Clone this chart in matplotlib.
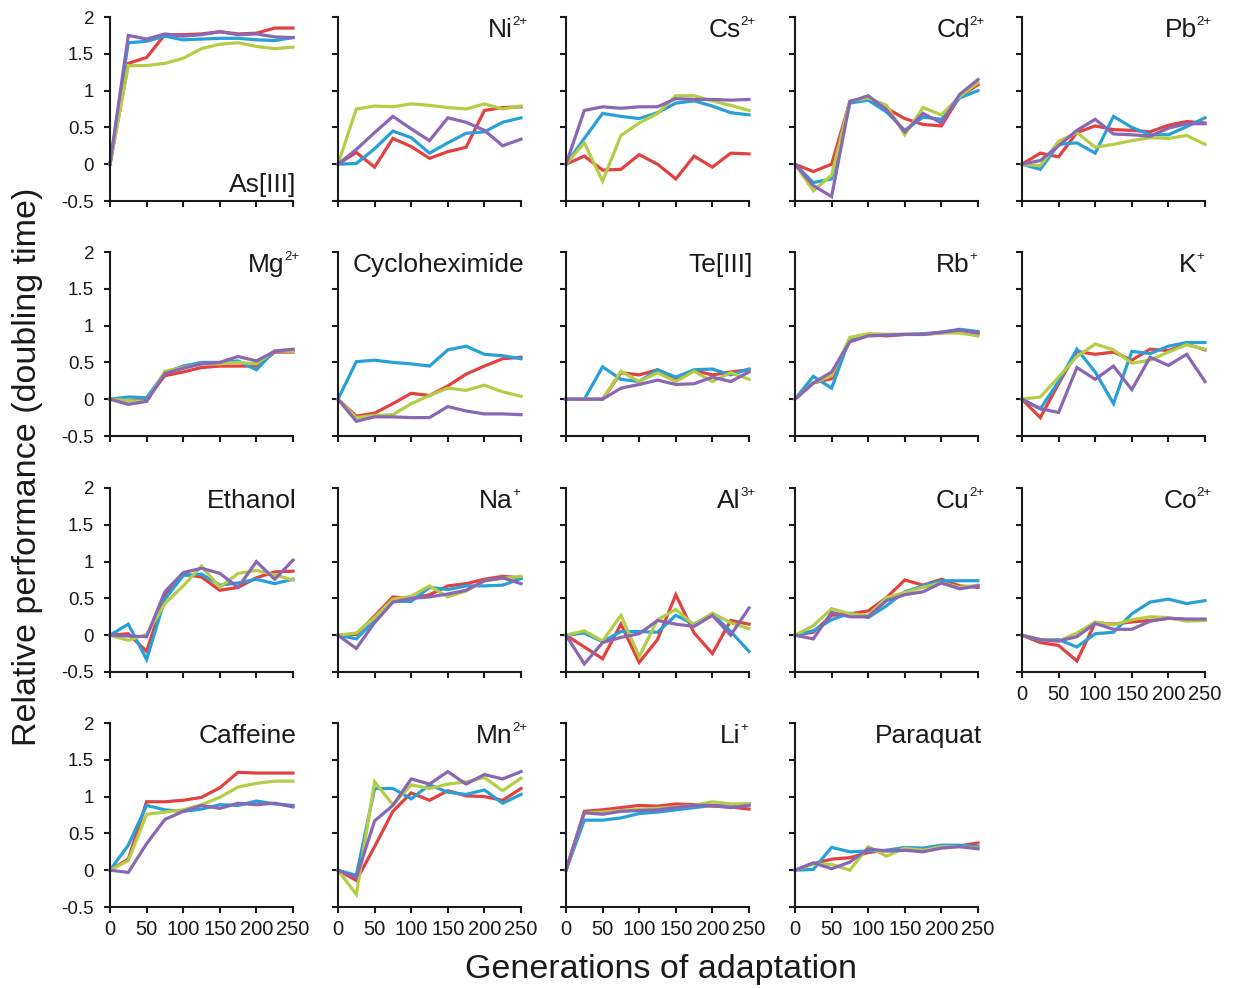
import matplotlib
matplotlib.use("Agg")
import matplotlib.pyplot as plt

plt.rcParams['font.family'] = ['Liberation Sans', 'DejaVu Sans']

generations = [0, 25, 50, 75, 100, 125, 150, 175, 200, 225, 250]
series_colors = ['#E2413F', '#27A0DA', '#B5CC45', '#8A67B5']  # red, blue, green, purple
y_ticks = [-0.5, 0, 0.5, 1, 1.5, 2]
y_ticklabels = ['-0.5', '0', '0.5', '1', '1.5', '2']
x_ticks = [0, 50, 100, 150, 200, 250]

# each condition: [red, blue, green, purple]
as3 = [[0, 1.37, 1.45, 1.76, 1.76, 1.77, 1.80, 1.77, 1.78, 1.85, 1.85],
       [0, 1.65, 1.67, 1.74, 1.69, 1.70, 1.71, 1.71, 1.69, 1.68, 1.72],
       [0, 1.34, 1.34, 1.37, 1.44, 1.57, 1.63, 1.65, 1.60, 1.57, 1.59],
       [0, 1.75, 1.70, 1.77, 1.74, 1.76, 1.80, 1.76, 1.77, 1.73, 1.72]]
ni = [[0, 0.16, -0.04, 0.35, 0.24, 0.08, 0.17, 0.23, 0.73, 0.77, 0.78],
      [0, 0.01, 0.21, 0.45, 0.36, 0.15, 0.29, 0.42, 0.44, 0.57, 0.63],
      [0, 0.75, 0.79, 0.78, 0.82, 0.80, 0.77, 0.75, 0.82, 0.75, 0.79],
      [0, 0.20, 0.43, 0.65, 0.48, 0.32, 0.63, 0.57, 0.46, 0.25, 0.34]]
cs = [[0, 0.11, -0.08, -0.07, 0.13, 0.0, -0.20, 0.11, -0.04, 0.15, 0.14],
      [0, 0.35, 0.69, 0.65, 0.62, 0.70, 0.83, 0.86, 0.79, 0.70, 0.67],
      [0, 0.29, -0.23, 0.39, 0.56, 0.69, 0.93, 0.93, 0.86, 0.80, 0.73],
      [0, 0.73, 0.78, 0.76, 0.78, 0.78, 0.89, 0.88, 0.88, 0.87, 0.88]]
cd = [[0, -0.10, 0.0, 0.85, 0.89, 0.76, 0.62, 0.54, 0.52, 0.92, 1.08],
      [0, -0.25, -0.20, 0.83, 0.87, 0.71, 0.46, 0.64, 0.61, 0.90, 1.00],
      [0, -0.36, -0.15, 0.86, 0.90, 0.80, 0.40, 0.77, 0.67, 0.92, 1.11],
      [0, -0.29, -0.44, 0.85, 0.93, 0.74, 0.44, 0.69, 0.56, 0.95, 1.15]]
pb = [[0, 0.15, 0.10, 0.43, 0.52, 0.47, 0.46, 0.44, 0.53, 0.58, 0.56],
      [0, -0.07, 0.27, 0.29, 0.15, 0.65, 0.50, 0.40, 0.40, 0.51, 0.63],
      [0, -0.02, 0.31, 0.43, 0.23, 0.27, 0.32, 0.36, 0.35, 0.39, 0.27],
      [0, 0.05, 0.25, 0.46, 0.61, 0.41, 0.40, 0.38, 0.49, 0.55, 0.55]]
mg = [[0, -0.02, 0.0, 0.32, 0.37, 0.43, 0.45, 0.45, 0.45, 0.64, 0.64],
      [0, 0.03, 0.02, 0.36, 0.45, 0.50, 0.50, 0.52, 0.40, 0.66, 0.67],
      [0, -0.02, -0.03, 0.38, 0.43, 0.48, 0.48, 0.50, 0.48, 0.66, 0.65],
      [0, -0.07, -0.03, 0.35, 0.42, 0.48, 0.50, 0.58, 0.52, 0.65, 0.68]]
cyclo = [[0, -0.23, -0.19, -0.06, 0.08, 0.05, 0.18, 0.34, 0.45, 0.55, 0.57],
         [0, 0.51, 0.53, 0.50, 0.48, 0.45, 0.67, 0.72, 0.61, 0.59, 0.55],
         [0, -0.25, -0.22, -0.21, -0.06, 0.05, 0.15, 0.12, 0.19, 0.10, 0.04],
         [0, -0.30, -0.24, -0.24, -0.25, -0.25, -0.10, -0.16, -0.20, -0.20, -0.21]]
te = [[0, 0, 0, 0.36, 0.33, 0.40, 0.28, 0.39, 0.33, 0.37, 0.40],
      [0, 0, 0.44, 0.27, 0.24, 0.40, 0.30, 0.40, 0.41, 0.33, 0.41],
      [0, 0, 0, 0.38, 0.24, 0.36, 0.24, 0.38, 0.24, 0.36, 0.27],
      [0, 0, 0, 0.15, 0.20, 0.26, 0.20, 0.21, 0.30, 0.24, 0.37]]
rb = [[0, 0.22, 0.28, 0.80, 0.88, 0.86, 0.88, 0.88, 0.90, 0.93, 0.89],
      [0, 0.31, 0.15, 0.83, 0.88, 0.88, 0.88, 0.89, 0.91, 0.95, 0.92],
      [0, 0.22, 0.32, 0.84, 0.89, 0.88, 0.88, 0.88, 0.90, 0.90, 0.86],
      [0, 0.22, 0.37, 0.78, 0.86, 0.87, 0.88, 0.88, 0.91, 0.94, 0.90]]
k = [[0, -0.25, 0.21, 0.65, 0.61, 0.64, 0.53, 0.68, 0.66, 0.75, 0.67],
     [0, -0.13, 0.24, 0.68, 0.37, -0.06, 0.65, 0.62, 0.72, 0.77, 0.77],
     [0, 0.03, 0.30, 0.58, 0.75, 0.67, 0.49, 0.53, 0.64, 0.74, 0.68],
     [0, -0.13, -0.18, 0.43, 0.27, 0.45, 0.13, 0.57, 0.46, 0.61, 0.24]]
ethanol = [[0, 0.02, -0.22, 0.55, 0.83, 0.79, 0.61, 0.65, 0.78, 0.86, 0.87],
           [0, 0.15, -0.33, 0.49, 0.81, 0.83, 0.68, 0.71, 0.76, 0.70, 0.76],
           [0, -0.07, 0.01, 0.43, 0.67, 0.94, 0.65, 0.84, 0.88, 0.82, 0.75],
           [0, -0.01, -0.02, 0.59, 0.85, 0.91, 0.84, 0.65, 1.00, 0.76, 1.02]]
na = [[0, 0.01, 0.26, 0.52, 0.50, 0.55, 0.67, 0.70, 0.76, 0.80, 0.78],
      [0, -0.05, 0.20, 0.46, 0.46, 0.65, 0.62, 0.67, 0.67, 0.68, 0.77],
      [0, 0.03, 0.24, 0.49, 0.53, 0.67, 0.52, 0.60, 0.74, 0.77, 0.80],
      [0, -0.18, 0.17, 0.45, 0.50, 0.52, 0.56, 0.61, 0.74, 0.78, 0.70]]
al = [[0, -0.16, -0.32, 0.15, -0.37, -0.06, 0.55, 0.03, -0.25, 0.20, 0.15],
      [0, 0.03, -0.09, 0.05, 0.05, 0.04, 0.27, 0.15, 0.29, 0.05, -0.22],
      [0, 0.06, -0.08, 0.27, -0.29, 0.21, 0.35, 0.14, 0.30, 0.17, 0.09],
      [0, -0.39, -0.10, -0.03, 0.02, 0.20, 0.15, 0.12, 0.27, 0.0, 0.37]]
cu = [[0, 0.04, 0.27, 0.29, 0.33, 0.51, 0.75, 0.68, 0.76, 0.67, 0.65],
      [0, 0.06, 0.21, 0.30, 0.24, 0.40, 0.59, 0.67, 0.74, 0.74, 0.74],
      [0, 0.13, 0.36, 0.29, 0.27, 0.51, 0.58, 0.65, 0.71, 0.65, 0.68],
      [0, -0.05, 0.31, 0.25, 0.25, 0.47, 0.55, 0.59, 0.71, 0.63, 0.67]]
co = [[0, -0.10, -0.14, -0.35, 0.17, 0.15, 0.18, 0.20, 0.23, 0.21, 0.21],
      [0, -0.07, -0.06, -0.16, 0.02, 0.04, 0.29, 0.45, 0.49, 0.43, 0.47],
      [0, -0.06, -0.08, 0.03, 0.18, 0.14, 0.21, 0.25, 0.24, 0.19, 0.20],
      [0, -0.06, -0.08, -0.02, 0.16, 0.08, 0.08, 0.19, 0.23, 0.22, 0.22]]
caffeine = [[0, 0.15, 0.93, 0.93, 0.95, 0.99, 1.12, 1.33, 1.32, 1.32, 1.32],
            [0, 0.34, 0.88, 0.82, 0.80, 0.83, 0.89, 0.88, 0.94, 0.90, 0.88],
            [0, 0.13, 0.76, 0.79, 0.82, 0.89, 0.99, 1.13, 1.18, 1.21, 1.21],
            [0, -0.03, 0.36, 0.69, 0.80, 0.88, 0.84, 0.91, 0.89, 0.91, 0.86]]
mn = [[0, -0.14, 0.32, 0.80, 1.05, 0.95, 1.08, 1.01, 1.00, 0.95, 1.11],
      [0, -0.07, 1.11, 1.11, 0.97, 1.16, 1.06, 1.03, 1.09, 0.91, 1.03],
      [0, -0.33, 1.20, 0.89, 1.16, 1.11, 1.17, 1.20, 1.26, 1.08, 1.25],
      [0, -0.10, 0.67, 0.88, 1.24, 1.17, 1.34, 1.17, 1.30, 1.24, 1.34]]
li = [[0, 0.80, 0.82, 0.85, 0.88, 0.87, 0.90, 0.89, 0.87, 0.86, 0.83],
      [0, 0.68, 0.68, 0.71, 0.77, 0.79, 0.82, 0.85, 0.88, 0.89, 0.90],
      [0, 0.78, 0.79, 0.81, 0.83, 0.84, 0.86, 0.88, 0.93, 0.90, 0.90],
      [0, 0.78, 0.76, 0.80, 0.81, 0.82, 0.85, 0.88, 0.88, 0.85, 0.88]]
paraquat = [[0, 0.09, 0.15, 0.17, 0.24, 0.27, 0.28, 0.27, 0.32, 0.33, 0.37],
            [0, 0.01, 0.31, 0.25, 0.26, 0.27, 0.31, 0.30, 0.34, 0.34, 0.32],
            [0, 0.08, 0.08, 0.0, 0.32, 0.19, 0.30, 0.27, 0.32, 0.32, 0.30],
            [0, 0.10, 0.02, 0.11, 0.29, 0.26, 0.27, 0.25, 0.30, 0.32, 0.29]]

# (label, superscript, data, row, col, label at bottom, show x tick labels)
panels = [
    ('As[III]', '', as3, 0, 0, True, False),
    ('Ni', '2+', ni, 0, 1, False, False),
    ('Cs', '2+', cs, 0, 2, False, False),
    ('Cd', '2+', cd, 0, 3, False, False),
    ('Pb', '2+', pb, 0, 4, False, False),
    ('Mg', '2+', mg, 1, 0, False, False),
    ('Cycloheximide', '', cyclo, 1, 1, False, False),
    ('Te[III]', '', te, 1, 2, False, False),
    ('Rb', '+', rb, 1, 3, False, False),
    ('K', '+', k, 1, 4, False, False),
    ('Ethanol', '', ethanol, 2, 0, False, False),
    ('Na', '+', na, 2, 1, False, False),
    ('Al', '3+', al, 2, 2, False, False),
    ('Cu', '2+', cu, 2, 3, False, False),
    ('Co', '2+', co, 2, 4, False, True),
    ('Caffeine', '', caffeine, 3, 0, False, True),
    ('Mn', '2+', mn, 3, 1, False, True),
    ('Li', '+', li, 3, 2, False, True),
    ('Paraquat', '', paraquat, 3, 3, False, True),
]

W, H = 1245, 988
fig = plt.figure(figsize=(W / 100, H / 100), dpi=100)
col_left = [110, 338, 566, 795, 1022]
row_top = [17, 252, 488, 723]
pw, ph = 183, 184

for label, sup, data, r, c, bottom, xlab in panels:
    ax = fig.add_axes([col_left[c] / W, 1 - (row_top[r] + ph) / H, pw / W, ph / H])
    for vals, colr in zip(data, series_colors):
        ax.plot(generations, vals, color=colr, lw=2.3, solid_joinstyle='miter', clip_on=False)
    ax.set_xlim(0, 250)
    ax.set_ylim(-0.5, 2)
    ax.set_xticks(x_ticks)
    ax.set_yticks(y_ticks)
    for s in ['top', 'right']:
        ax.spines[s].set_visible(False)
    for s in ['left', 'bottom']:
        ax.spines[s].set_linewidth(1.5)
        ax.spines[s].set_color('#1a1a1a')
    ax.tick_params(direction='out', length=4.5, width=1.5, color='#1a1a1a',
                   labelcolor='#1a1a1a')
    ax.tick_params(axis='y', pad=7, labelsize=13.5)
    ax.tick_params(axis='x', pad=5, labelsize=14.5)
    if c == 0:
        ax.set_yticklabels(y_ticklabels)
    else:
        ax.set_yticklabels([])
    if not xlab:
        ax.set_xticklabels([])
    ypos = 0.05 if bottom else 0.89
    if sup:
        t = ax.text(0.955, ypos, label, transform=ax.transAxes, ha='right', va='baseline',
                    fontsize=19, color='#1a1a1a')
        ax.annotate(sup, xy=(1.0, 1.0), xycoords=t, xytext=(-0.5, 1.5), textcoords='offset points',
                    ha='left', va='top', fontsize=9.5, color='#1a1a1a')
    else:
        ax.text(1.02, ypos, label, transform=ax.transAxes, ha='right', va='baseline',
                fontsize=19, color='#1a1a1a')

fig.text(28 / W, 1 - 467 / H, 'Relative performance (doubling time)', rotation=90,
         ha='center', va='center', fontsize=24.5, color='#1a1a1a')
fig.text(661 / W, 1 - 978 / H, 'Generations of adaptation', ha='center', va='baseline',
         fontsize=24.5, color='#1a1a1a')

fig.savefig('out.png', dpi=100)
